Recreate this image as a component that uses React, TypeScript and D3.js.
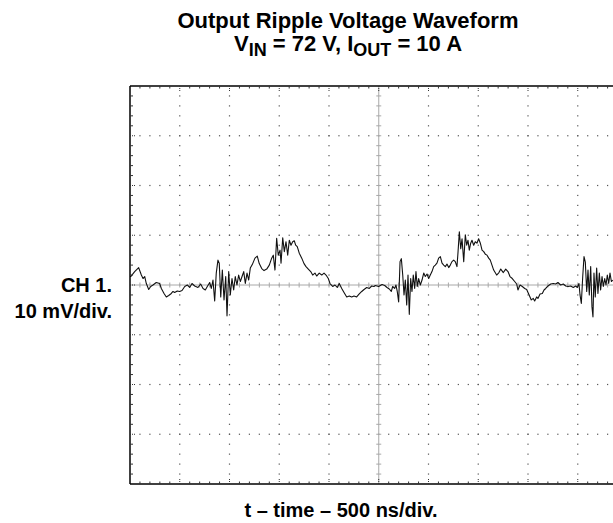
import { useEffect, useRef } from 'react';
import * as d3 from 'd3';

// scope trace: time in ns, ripple in mV
const timeNs = [
  0, 7, 47, 87, 114, 131, 148, 164, 188, 208, 231, 264, 298, 315, 342, 365, 389, 415, 432, 449,
  475, 499, 523, 550, 576, 600, 623, 650, 683, 710, 734, 757, 777, 801, 817, 834, 851, 867, 884, 897,
  912, 928, 945, 962, 975, 992, 1008, 1025, 1042, 1058, 1075, 1092, 1109, 1126, 1143, 1159, 1176, 1193, 1209, 1229,
  1256, 1279, 1299, 1324, 1347, 1374, 1400, 1424, 1440, 1457, 1474, 1490, 1508, 1518, 1535, 1551, 1568, 1585, 1601,
  1618, 1635, 1651, 1665, 1681, 1701, 1726, 1749, 1769, 1792, 1816, 1836, 1859, 1876, 1902, 1927, 1950, 1970, 1993,
  2010, 2037, 2060, 2083, 2103, 2128, 2151, 2178, 2204, 2228, 2251, 2278, 2304, 2329, 2352, 2379, 2405, 2429, 2452,
  2465, 2499, 2533, 2560, 2583, 2606, 2626, 2640, 2660, 2673, 2686, 2700, 2714, 2727, 2741, 2754, 2767, 2781, 2794, 2807,
  2821, 2834, 2847, 2861, 2874, 2887, 2901, 2918, 2935, 2952, 2968, 2985, 3002, 3018, 3035, 3052, 3068, 3085, 3102, 3119,
  3136, 3153, 3169, 3186, 3203, 3219, 3236, 3253, 3269, 3286, 3296, 3310, 3324, 3337, 3354, 3370, 3384, 3397, 3410, 3424,
  3437, 3454, 3470, 3487, 3504, 3521, 3538, 3555, 3571, 3588, 3605, 3621, 3638, 3655,
  3685, 3708, 3726, 3752, 3776, 3799, 3819, 3842, 3866, 3886, 3899, 3920, 3943, 3967, 3987, 4000, 4020, 4033, 4053, 4067,
  4087, 4100, 4121, 4144, 4161, 4178, 4201, 4228, 4254, 4278, 4301, 4328, 4355, 4379, 4402, 4429, 4455, 4479, 4496, 4512,
  4523, 4536, 4550, 4563, 4576, 4590, 4603, 4616, 4630, 4643, 4653, 4663, 4676, 4690, 4703, 4717, 4730, 4744, 4757, 4771,
  4784, 4797, 4811, 4824, 4838, 4851,
];

const rippleMv = [
  1.7, 1.7, 2.7, 3.5, 2.0, 1.3, 1.7, 0.3, -0.9, -0.3, 0, 0.5, 0.3, -0.7, -1.7, -2.4, -2.1, -1.7, -1.3, -1.5,
  -1.2, -1.3, -1.1, -0.3, 0, -0.5, 0.3, -0.2, -0.5, 0.2, -0.7, -1.0, -0.3, 0.5, -0.7, 1.0, -3.2, 2.4, 5.0, 4.4,
  -2.4, 3.0, -3.0, 1.7, -6.2, 2.7, -2.0, 1.3, -1.0, 1.7, 0, 2.0, 0.7, 1.7, 2.7, 0.3, 2.4, 1.0, 3.4, 4.1,
  5.4, 5.8, 4.3, 3.3, 2.9, 3.2, 4.0, 5.4, 6.0, 3.0, 9.4, 6.0, 7.0, 4.4, 9.5, 6.7, 8.7, 6.0, 9.0,
  8.0, 8.7, 8.9, 8.0, 7.7, 6.4, 5.4, 4.3, 3.7, 3.2, 2.7, 2.0, 2.4, 1.8, 2.4, 2.0, 2.4, 2.0, 1.3,
  0.3, -0.3, 0, -0.5, 0.3, -0.7, -1.5, -2.4, -2.2, -2.4, -2.2, -2.4, -1.8, -1.3, -0.9, -0.5, -0.7, -0.2, -0.3,
  -0.1, -0.3, 0.1, -0.1, -0.5, -0.8, -1.3, -0.3, -0.7, 0, -1.3, -3.4, 4.7, 5.3, 2.0, -2.0, 1.0, -4.0, 2.0, -5.9,
  1.3, -1.3, 2.0, -0.7, 2.7, -0.3, 1.3, 0, 1.0, 2.4, 1.7, 2.2, 1.3, 2.0, 2.7, 3.7, 4.0, 4.4, 5.4, 5.7,
  4.4, 4.0, 3.7, 4.2, 3.5, 4.0, 4.7, 5.0, 4.7, 3.7, 6.4, 10.7, 7.3, 9.3, 4.7, 10.1, 8.0, 9.0, 7.0, 8.4,
  9.0, 8.0, 8.7, 8.4, 9.3, 8.4, 7.0, 6.7, 6.2, 6.0, 5.4, 5.0, 4.0, 3.0,
  2.0, 2.5, 3.2, 2.5, 3.2, 2.7, 1.7, 1.3, 0.7, 0.2, -1.0, 0, -0.3, -0.7, -0.9, -1.5, -2.4, -3.0, -2.7, -3.2,
  -2.4, -2.7, -1.8, -1.7, -1.0, -0.7, -0.2, 0.2, 0.3, 0.2, 0.5, 0, 0.2, -0.2, -0.3, -0.2, -0.5, -0.2, -0.5, 0.3,
  -2.0, -3.7, 1.7, 5.7, 4.6, -1.3, 3.0, -2.0, 3.7, -4.4, -6.4, 2.4, -2.4, 3.4, -1.7, 2.4, -1.0, 1.7, -0.3, 1.3,
  0, 2.0, 0.3, 2.4, 0.7, 1.0,
];

// screen: 10 div of 500 ns across, 8 div of 10 mV up
const timeDomain = [0, 5000];
const voltDomain = [-40, 40];
const nsPerDiv = 500;
const mvPerDiv = 10;

const titleText = 'Output Ripple Voltage Waveform';
const channelLines = ['CH 1.', '10 mV/div.'];
const xLabelText = 't \u2013 time \u2013 500 ns/div.';

const FONT = '"Liberation Sans", Arial, Helvetica, sans-serif';

const App = () => {
  const svgRef = useRef<SVGSVGElement>(null);

  useEffect(() => {
    const width = 613;
    const height = 523;
    const margin = { top: 86, left: 130 };
    const div = 49.75;
    const innerWidth = div * 10;
    const innerHeight = div * 8;

    const svg = d3.select(svgRef.current);
    svg.selectAll('*').remove();
    svg.attr('width', width).attr('height', height);

    const x = d3.scaleLinear().domain(timeDomain).range([margin.left, margin.left + innerWidth]);
    const y = d3.scaleLinear().domain(voltDomain).range([margin.top + innerHeight, margin.top]);

    const majorT = d3.range(timeDomain[0], timeDomain[1] + 1, nsPerDiv);
    const majorV = d3.range(voltDomain[0], voltDomain[1] + 1, mvPerDiv);
    const minorT = d3.range(timeDomain[0], timeDomain[1] + 1, nsPerDiv / 5);
    const minorV = d3.range(voltDomain[0], voltDomain[1] + 1, mvPerDiv / 5);
    const tMid = (timeDomain[0] + timeDomain[1]) / 2;

    const grid = svg.append('g');

    // dotted graticule: vertical lines
    majorT.filter(t => t !== tMid && t !== timeDomain[0] && t !== timeDomain[1]).forEach(t => {
      grid.append('g').selectAll('rect')
        .data(minorV.slice(1, -1))
        .enter().append('rect')
        .attr('x', x(t) - 0.6)
        .attr('y', d => y(d) - 0.6)
        .attr('width', 1.2)
        .attr('height', 1.2)
        .attr('fill', '#555');
    });
    // dotted graticule: horizontal lines
    majorV.filter(v => v !== 0 && v !== voltDomain[0] && v !== voltDomain[1]).forEach(v => {
      grid.append('g').selectAll('rect')
        .data(minorT.slice(1))
        .enter().append('rect')
        .attr('x', d => x(d) - 0.6)
        .attr('y', y(v) - 0.6)
        .attr('width', 1.2)
        .attr('height', 1.2)
        .attr('fill', '#555');
    });

    // centre cross with fine ticks
    const centre = svg.append('g').attr('stroke', '#a8a8a8').attr('stroke-width', 1);
    centre.append('line')
      .attr('x1', x(timeDomain[0])).attr('x2', x(timeDomain[1]))
      .attr('y1', y(0)).attr('y2', y(0));
    centre.append('line')
      .attr('x1', x(tMid)).attr('x2', x(tMid))
      .attr('y1', y(voltDomain[0])).attr('y2', y(voltDomain[1]));
    centre.selectAll('.ht')
      .data(minorT.slice(1))
      .enter().append('line')
      .attr('class', 'ht')
      .attr('x1', d => x(d)).attr('x2', d => x(d))
      .attr('y1', y(0) - 2.5).attr('y2', y(0) + 2.5);
    centre.selectAll('.vt')
      .data(minorV.slice(1, -1))
      .enter().append('line')
      .attr('class', 'vt')
      .attr('x1', x(tMid) - 2.5).attr('x2', x(tMid) + 2.5)
      .attr('y1', d => y(d)).attr('y2', d => y(d));

    // trace
    const line = d3.line<number>()
      .x(i => x(timeNs[i]))
      .y(i => y(rippleMv[i]));

    svg.append('path')
      .datum(d3.range(timeNs.length))
      .attr('fill', 'none')
      .attr('stroke', '#111')
      .attr('stroke-width', 1.1)
      .attr('stroke-linejoin', 'round')
      .attr('d', line);

    // frame
    const frame = svg.append('g').attr('stroke', '#000').attr('stroke-width', 1.5);
    frame.append('line')
      .attr('x1', x(timeDomain[0])).attr('x2', x(timeDomain[1]))
      .attr('y1', y(voltDomain[1])).attr('y2', y(voltDomain[1]));
    frame.append('line')
      .attr('x1', x(timeDomain[0])).attr('x2', x(timeDomain[1]))
      .attr('y1', y(voltDomain[0])).attr('y2', y(voltDomain[0]));
    frame.append('line')
      .attr('x1', x(timeDomain[0])).attr('x2', x(timeDomain[0]))
      .attr('y1', y(voltDomain[0])).attr('y2', y(voltDomain[1]));

    // frame ticks
    const isMajorT = (t: number) => t % nsPerDiv === 0;
    const isMajorV = (v: number) => v % mvPerDiv === 0;
    const ticks = svg.append('g').attr('stroke', '#333').attr('stroke-width', 1);
    minorT.slice(1).forEach(t => {
      const len = isMajorT(t) ? 6 : 2.5;
      ticks.append('line')
        .attr('x1', x(t)).attr('x2', x(t))
        .attr('y1', y(voltDomain[1])).attr('y2', y(voltDomain[1]) + len)
        .attr('stroke-dasharray', isMajorT(t) ? '1 1' : null);
      ticks.append('line')
        .attr('x1', x(t)).attr('x2', x(t))
        .attr('y1', y(voltDomain[0])).attr('y2', y(voltDomain[0]) - len)
        .attr('stroke-dasharray', isMajorT(t) ? '1 1' : null);
    });
    minorV.slice(1, -1).forEach(v => {
      const len = isMajorV(v) ? 6 : 3;
      ticks.append('line')
        .attr('x1', x(timeDomain[0])).attr('x2', x(timeDomain[0]) + len)
        .attr('y1', y(v)).attr('y2', y(v))
        .attr('stroke-dasharray', isMajorV(v) ? '1 1' : null);
    });

    // labels
    const labels = svg.append('g')
      .style('font-family', FONT)
      .style('font-weight', 'bold')
      .attr('fill', '#000');

    labels.append('text')
      .attr('x', 348).attr('y', 28)
      .attr('text-anchor', 'middle')
      .style('font-size', '22px')
      .text(titleText);

    const sub = labels.append('text')
      .attr('x', 348).attr('y', 51)
      .attr('text-anchor', 'middle')
      .style('font-size', '22px');
    sub.append('tspan').text('V');
    sub.append('tspan').attr('dy', 5).style('font-size', '18px').text('IN');
    sub.append('tspan').attr('dy', -5).text(' = 72 V, I');
    sub.append('tspan').attr('dy', 5).style('font-size', '18px').text('OUT');
    sub.append('tspan').attr('dy', -5).text(' = 10 A');

    channelLines.forEach((s, i) => {
      labels.append('text')
        .attr('x', 112).attr('y', 292 + i * 26)
        .attr('text-anchor', 'end')
        .style('font-size', '20px')
        .text(s);
    });

    labels.append('text')
      .attr('x', 341).attr('y', 517)
      .attr('text-anchor', 'middle')
      .style('font-size', '20px')
      .text(xLabelText);
  }, []);

  return (
    <svg
      ref={svgRef}
      style={{ position: 'absolute', left: 0, top: 0, background: '#fff', display: 'block' }}
    />
  );
};

export default App;
